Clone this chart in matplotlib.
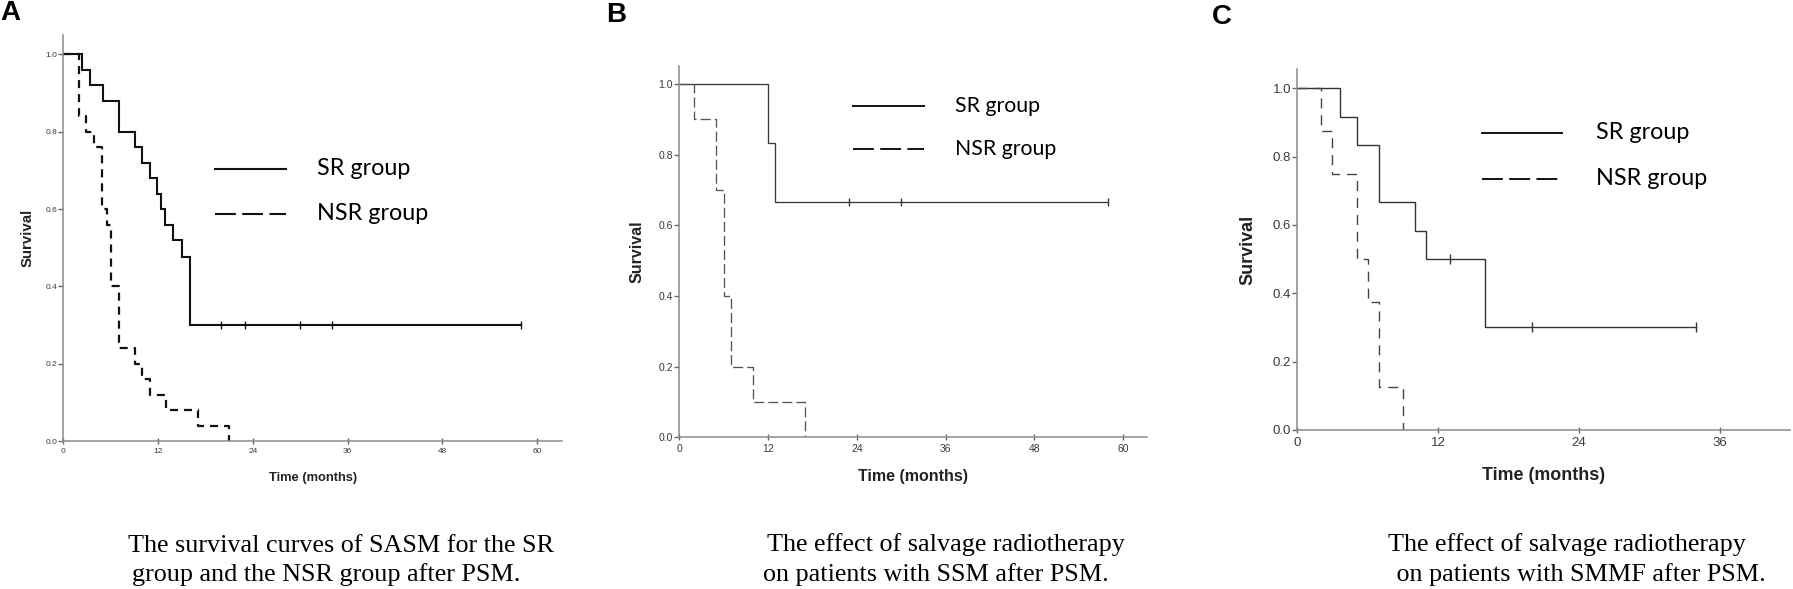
import numpy as np
import matplotlib
matplotlib.use("Agg")
import matplotlib.pyplot as plt
from matplotlib.lines import Line2D

# ------------------------------------------------------------------
# Data
# ------------------------------------------------------------------
panel_letters = ["A", "B", "C"]
legend_labels = ["SR group", "NSR group"]
x_label = "Time (months)"
y_label = "Survival"
yticks = [0.0, 0.2, 0.4, 0.6, 0.8, 1.0]
xticks_ab = [0, 12, 24, 36, 48, 60]
xticks_c = [0, 12, 24, 36]

captions_a = ["The survival curves of SASM for the SR", "group and the NSR group after PSM."]
captions_b = ["The effect of salvage radiotherapy", "on patients with SSM after PSM."]
captions_c = ["The effect of salvage radiotherapy", " on patients with SMMF after PSM."]

# Panel A
a_sr_times = [0, 2.3, 3.4, 5.0, 7.0, 9.0, 10.0, 11.0, 11.9, 12.4, 12.9, 13.9, 15.0, 16.0]
a_sr_surv = [1.0, 0.96, 0.92, 0.88, 0.80, 0.76, 0.72, 0.68, 0.64, 0.60, 0.56, 0.52, 0.475, 0.30]
a_sr_last = 58
a_sr_censored = [20, 23, 30, 34, 58]
a_nsr_times = [0, 2.0, 2.9, 3.9, 4.9, 5.5, 6.0, 7.0, 9.0, 10.0, 11.0, 13.0, 17.0, 21.0]
a_nsr_surv = [1.0, 0.84, 0.80, 0.76, 0.60, 0.56, 0.40, 0.24, 0.20, 0.16, 0.12, 0.08, 0.04, 0.0]

# Panel B
b_sr_times = [0, 12.0, 13.0]
b_sr_surv = [1.0, 0.833, 0.667]
b_sr_last = 58
b_sr_censored = [23, 30, 58]
b_nsr_times = [0, 2.0, 5.0, 6.0, 7.0, 10.0, 17.0]
b_nsr_surv = [1.0, 0.90, 0.70, 0.40, 0.20, 0.10, 0.0]

# Panel C
c_sr_times = [0, 3.6, 5.1, 7.0, 10.0, 11.0, 16.0]
c_sr_surv = [1.0, 0.917, 0.833, 0.667, 0.583, 0.50, 0.30]
c_sr_last = 34
c_sr_censored = [13, 20, 34]
c_nsr_times = [0, 2.0, 3.0, 5.1, 6.0, 7.0, 9.0]
c_nsr_surv = [1.0, 0.875, 0.75, 0.50, 0.375, 0.125, 0.0]

# ------------------------------------------------------------------
W, H, DPI = 1793, 589, 100
plt.rcParams["lines.scale_dashes"] = False
fig = plt.figure(figsize=(W / DPI, H / DPI), dpi=DPI)
fig.patch.set_facecolor("white")
renderer = fig.canvas.get_renderer()


def fit_size(text, target_px, ref=20, **kw):
    t = fig.text(0, 0, text, fontsize=ref, **kw)
    w = t.get_window_extent(renderer).width
    t.remove()
    return ref * target_px / w


def surv_at(times, surv, t):
    idx = np.searchsorted(np.asarray(times), np.asarray(t), side="right") - 1
    return np.asarray(surv)[idx]


def add_panel(rect, xmax, ymax, xticks, sr, nsr, st):
    left, top, right, bottom = rect
    ax = fig.add_axes([left / W, 1 - bottom / H, (right - left) / W, (bottom - top) / H])
    ax.set_xlim(0, xmax)
    ax.set_ylim(0, ymax)
    for s in ("top", "right"):
        ax.spines[s].set_visible(False)
    for s in ("left", "bottom"):
        ax.spines[s].set_color("#8a8a8a")
        ax.spines[s].set_linewidth(1.1)
    ax.set_xticks(xticks)
    ax.set_xticklabels([str(v) for v in xticks])
    ax.set_yticks(yticks)
    ax.set_yticklabels(["%.1f" % v for v in yticks])
    ax.tick_params(axis="y", direction="out", length=3.6, width=1.0, color="#666666",
                   pad=0.8, labelsize=st["tick"], labelcolor="#3a3a3a")
    ax.tick_params(axis="x", direction="inout", length=5.0, width=1.0, color="#666666",
                   pad=2.5, labelsize=st["tick"], labelcolor="#3a3a3a")
    for lab in ax.get_xticklabels() + ax.get_yticklabels():
        lab.set_family("Liberation Sans")

    # curves
    sr_t, sr_s, sr_last, sr_c = sr
    nsr_t, nsr_s = nsr
    ax.step(list(sr_t) + [sr_last], list(sr_s) + [sr_s[-1]], where="post",
            color=st["sr_color"], lw=st["sr_lw"], solid_joinstyle="miter")
    ax.step(nsr_t, nsr_s, where="post", color=st["nsr_color"], lw=st["nsr_lw"],
            linestyle=(0, st["nsr_dash"]))
    ax.plot(sr_c, surv_at(sr_t, sr_s, sr_c), ls="none", marker="|", ms=st["ms"],
            mew=1.0, color=st["sr_color"], clip_on=False)

    # axis labels
    ax.set_xlabel(x_label, fontsize=st["xl"], fontweight="bold", family="Liberation Sans",
                  color="#222222", va="center")
    ax.xaxis.set_label_coords(0.5, (bottom - st["xl_y"]) / (bottom - top))
    ax.set_ylabel(y_label, fontsize=st["yl"], fontweight="bold", family="Liberation Sans",
                  color="#222222", va="center")
    ax.yaxis.set_label_coords((st["yl_x"] - left) / (right - left), 0.5)

    # legend
    fs = st["leg_fs"]
    fs_px = fs * DPI / 72.0
    handles = [Line2D([], [], color="#111111", lw=st["leg_lw"], ls="-"),
               Line2D([], [], color="#111111", lw=st["leg_lw"], ls=(0, (15.0, 4.6)))]
    ax.legend(handles=handles, labels=legend_labels, loc="upper left",
              bbox_to_anchor=(st["leg_x"] / W, 1 - st["leg_top"] / H),
              bbox_transform=fig.transFigure, frameon=False, borderpad=0,
              borderaxespad=0, handlelength=st["leg_len"] / fs_px,
              handleheight=0.1, handletextpad=st["leg_gap"] / fs_px,
              labelspacing=st["leg_sp"], prop={"family": "Lato", "size": fs})
    return ax


leg_fs = fit_size("NSR group", 111, family="Lato")
leg_fs_b = fit_size("NSR group", 101, family="Lato")

style_a = dict(tick=6.0, sr_color="#111111", sr_lw=1.5, nsr_color="#111111", nsr_lw=1.6,
               nsr_dash=(5.8, 4.3), ms=6, xl=fit_size(x_label, 88, family="Liberation Sans", weight="bold"),
               yl=fit_size(y_label, 58, family="Liberation Sans", weight="bold"),
               xl_y=478, yl_x=28, leg_fs=leg_fs, leg_lw=1.5, leg_x=215, leg_top=158,
               leg_len=71, leg_gap=31, leg_sp=1.04)
style_b = dict(tick=7.5, sr_color="#3a3a3a", sr_lw=0.95, nsr_color="#555555", nsr_lw=0.95,
               nsr_dash=(7.2, 2.9), ms=6, xl=fit_size(x_label, 110, family="Liberation Sans", weight="bold"),
               yl=fit_size(y_label, 62, family="Liberation Sans", weight="bold"),
               xl_y=476.7, yl_x=636.7, leg_fs=leg_fs_b, leg_lw=1.4, leg_x=853, leg_top=96,
               leg_len=71, leg_gap=31, leg_sp=1.08)
style_c = dict(tick=9.5, sr_color="#333333", sr_lw=1.0, nsr_color="#444444", nsr_lw=1.0,
               nsr_dash=(7.2, 5.0), ms=7, xl=fit_size(x_label, 123, family="Liberation Sans", weight="bold"),
               yl=fit_size(y_label, 70, family="Liberation Sans", weight="bold"),
               xl_y=475.8, yl_x=1248.3, leg_fs=leg_fs, leg_lw=1.4, leg_x=1482, leg_top=122,
               leg_len=80, leg_gap=34, leg_sp=1.06)

add_panel((63.5, 35, 561.7, 441), 63.1, 1.0504, xticks_ab,
          (a_sr_times, a_sr_surv, a_sr_last, a_sr_censored), (a_nsr_times, a_nsr_surv), style_a)
add_panel((679.3, 65.7, 1146.7, 437.3), 63.2, 1.0518, xticks_ab,
          (b_sr_times, b_sr_surv, b_sr_last, b_sr_censored), (b_nsr_times, b_nsr_surv), style_b)
add_panel((1297.3, 69, 1790, 430), 42.0, 1.0565, xticks_c,
          (c_sr_times, c_sr_surv, c_sr_last, c_sr_censored), (c_nsr_times, c_nsr_surv), style_c)

# panel letters
for letter, (x, y) in zip(panel_letters, [(0, 0), (606, 2), (1212, 4)]):
    fig.text(x / W, 1 - y / H, letter, fontsize=20, fontweight="bold",
             family="Liberation Sans", ha="left", va="top", color="black")

# captions
cap_fs = fit_size(captions_b[0], 357, family="Liberation Serif")
cap_pos = [((128, 551.5), (132, 580.5)), ((766.7, 551), (763.3, 581)), ((1388.3, 551), (1390, 580.7))]
for lines, pos in zip([captions_a, captions_b, captions_c], cap_pos):
    for line, (x, y) in zip(lines, pos):
        fig.text(x / W, 1 - y / H, line, fontsize=cap_fs, family="Liberation Serif",
                 ha="left", va="baseline", color="black")

fig.savefig("out.png", dpi=DPI, facecolor="white")
